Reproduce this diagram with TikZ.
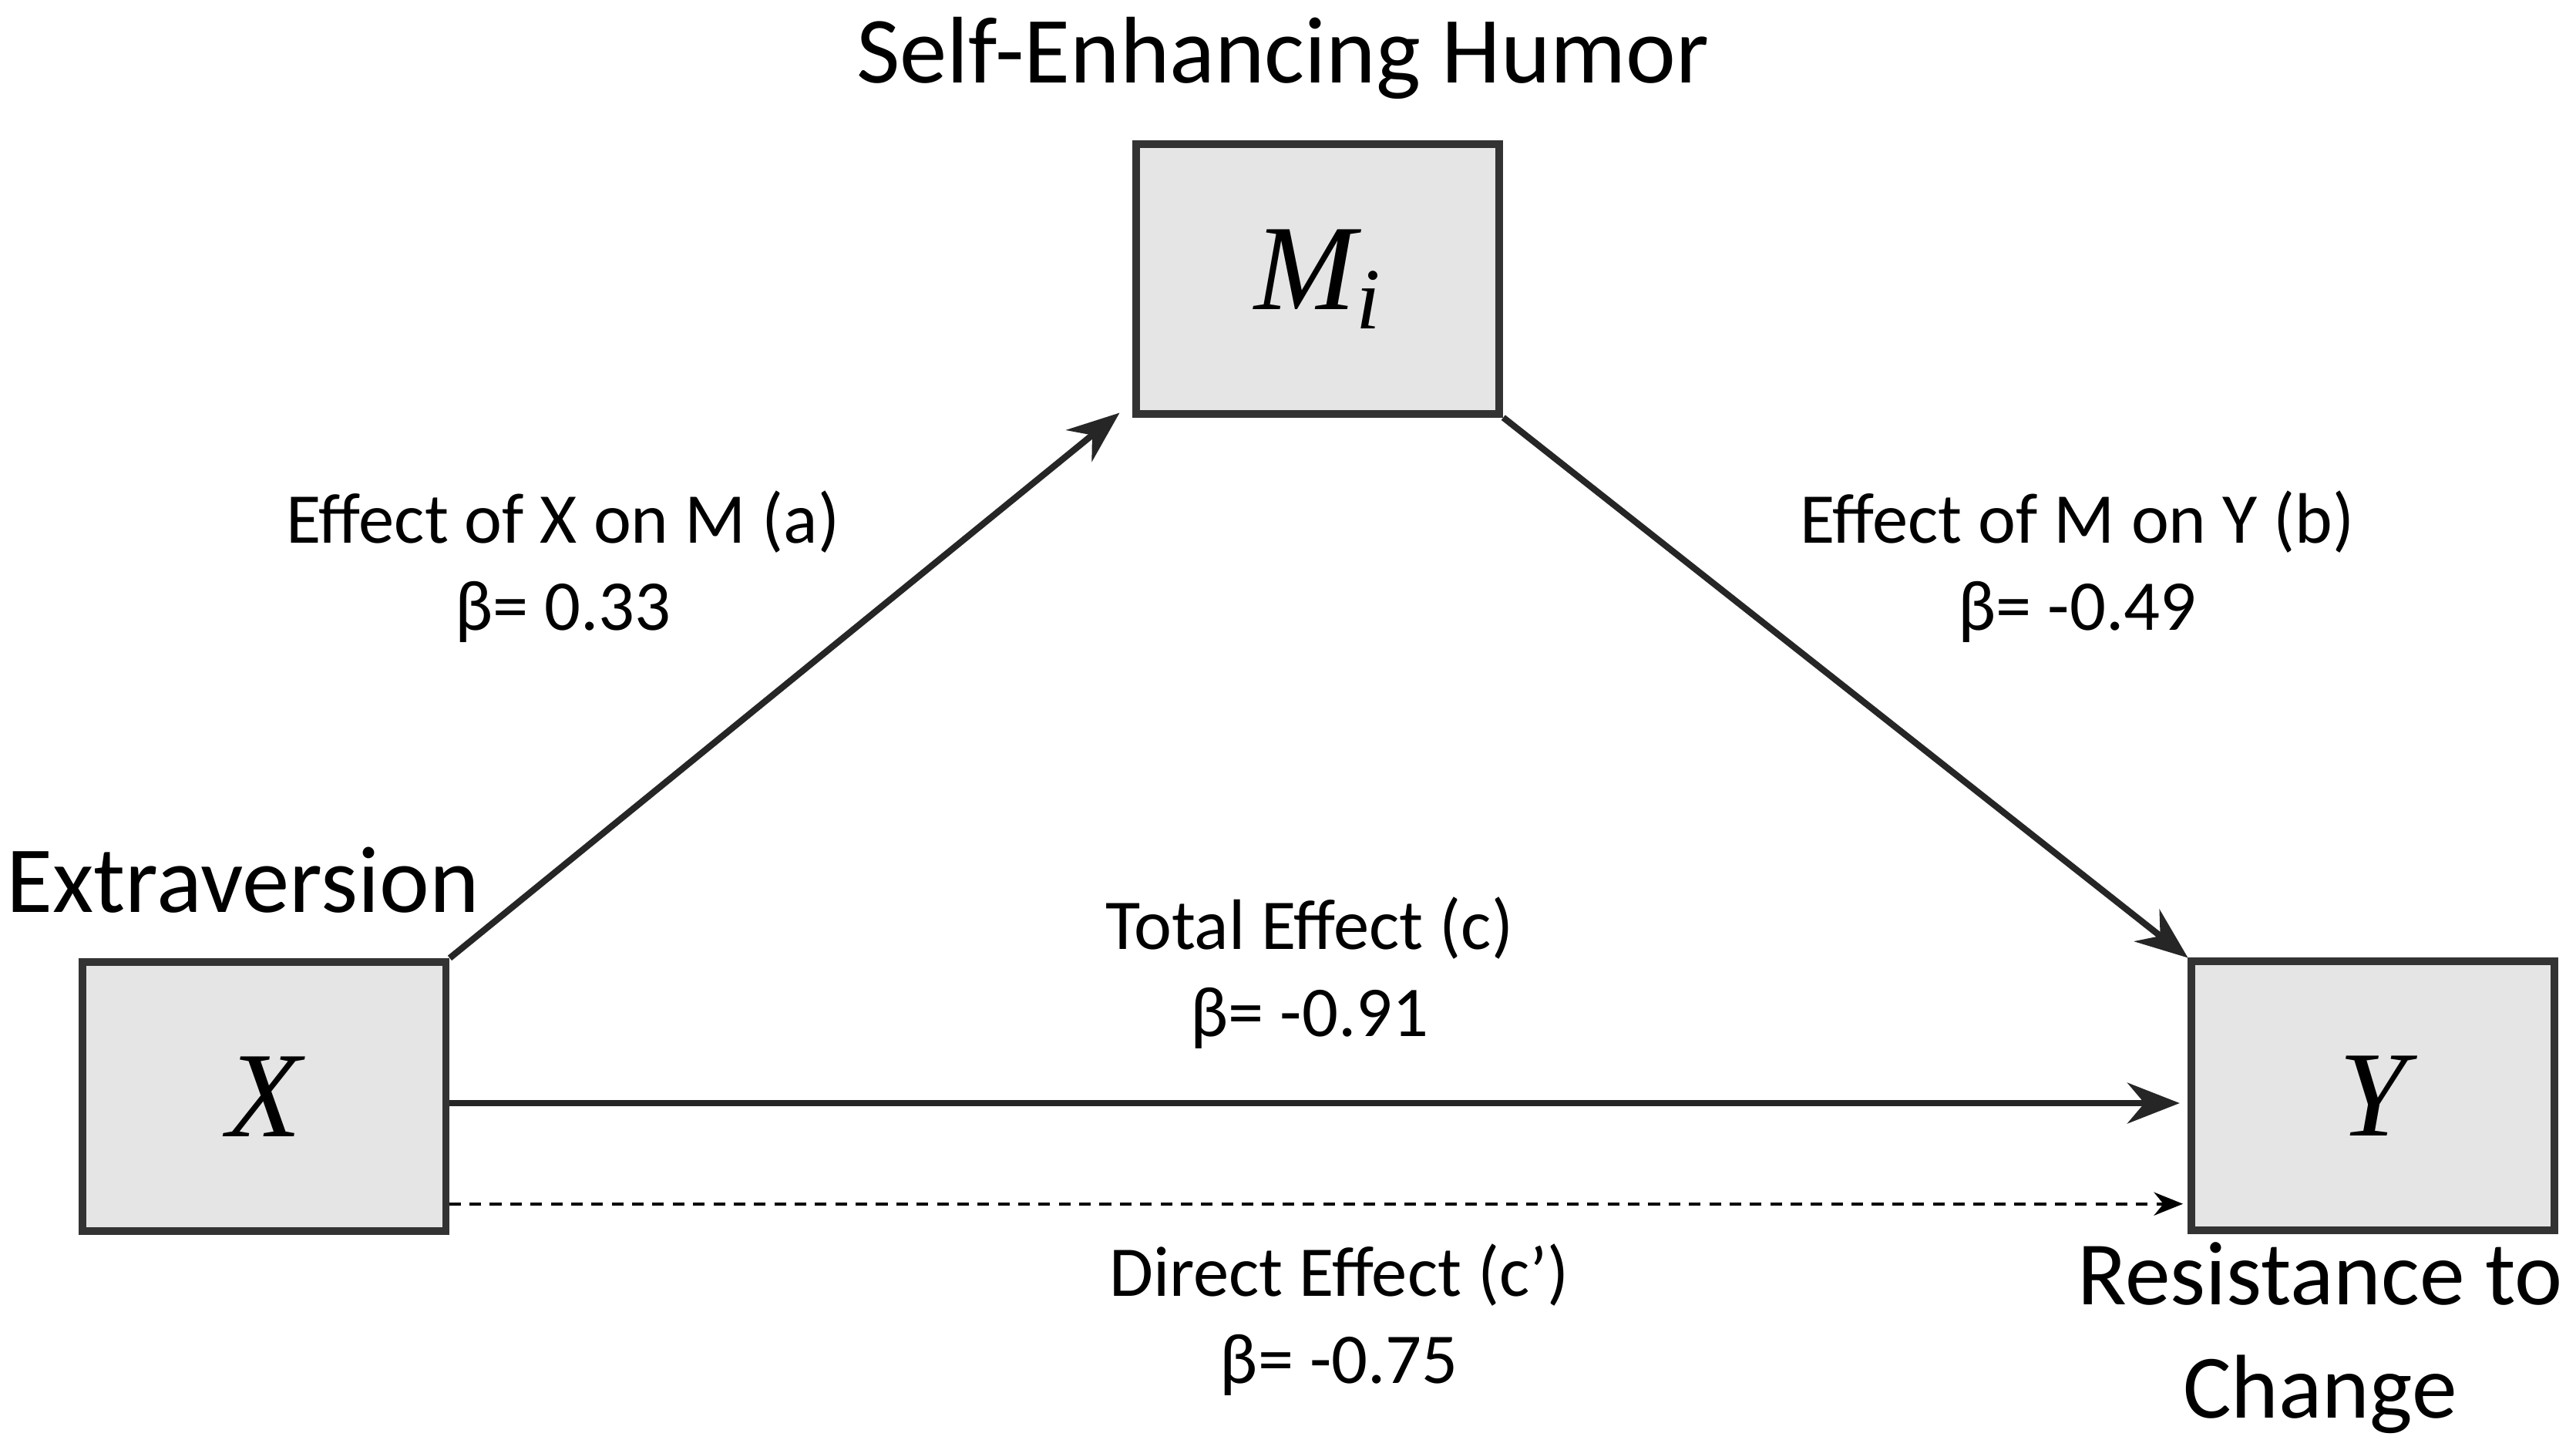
\documentclass[tikz,border=0pt]{standalone}
\usepackage{fontspec}
\setmainfont{Carlito}
\newfontfamily\serifit{Liberation Serif}
\usetikzlibrary{arrows.meta}
\begin{document}
\begin{tikzpicture}[x=0.01cm,y=-0.01cm,
  vbox/.style={draw=black!80,line width=1.3pt,fill=black!10,minimum width=2.2cm,minimum height=1.63cm,inner sep=0pt,font=\serifit\itshape\fontsize{21}{24}\selectfont},
  lbl/.style={font=\fontsize{12.3}{15}\selectfont,align=center},
  ttl/.style={font=\fontsize{16.3}{19.5}\selectfont,align=center},
  arr/.style={line width=1.1pt,draw=black!85,-{Stealth[length=9pt,width=7pt]}}]
\useasboundingbox (0,0) rectangle (1560,877.6);
\node[vbox] (M) at (798,169) {M\raisebox{-0.35ex}{\fontsize{15}{17}\selectfont i}};
\node[vbox] (X) at (160,664) {X};
\node[vbox] (Y) at (1437,663.5) {Y};
\coordinate (aend) at (678,250);
\coordinate (bend) at (1325,580);
\coordinate (cend) at (1320,668);
\coordinate (dend) at (1322,729);
\coordinate (cstart) at (272,668);
\coordinate (dstart) at (272,729);
\draw[arr] (X.north east) -- (aend);
\draw[arr] (M.south east) -- (bend);
\draw[arr] (cstart) -- (cend);
\draw[dashed,line width=0.5pt,-{Stealth[length=5pt,width=4pt]},dash pattern=on 2pt off 1.5pt] (dstart) -- (dend);
\node[ttl] (tm) at (777,35) {Self-Enhancing Humor};
\node[ttl] (tx) at (147,533) {Extraversion};
\node[ttl,inner sep=1pt,font=\fontsize{15.6}{19.5}\selectfont] (ty) at (1405,810) {Resistance to\\Change};
\node[lbl] (la) at (341,343) {Effect of X on M (a)\\β= 0.33};
\node[lbl] (lb) at (1258,343) {Effect of M on Y (b)\\β= -0.49};
\node[lbl] (lc) at (793,589) {Total Effect (c)\\β= -0.91};
\node[lbl] (ld) at (811,799) {Direct Effect (c’)\\β= -0.75};
\end{tikzpicture}
\end{document}
